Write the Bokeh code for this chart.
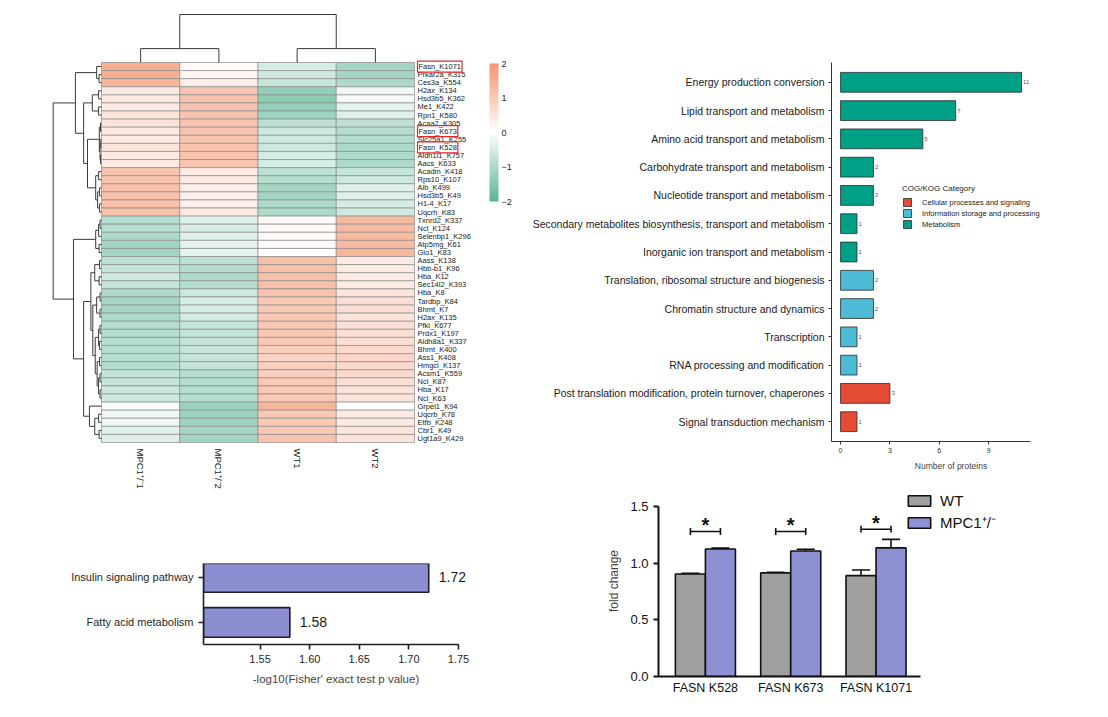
import math
from bokeh.plotting import figure
from bokeh.models import (ColumnDataSource, Range1d, FactorRange, LinearColorMapper, ColorBar,
                          FixedTicker, Legend, LegendItem, Whisker, TeeHead, NumeralTickFormatter)
from bokeh.layouts import row, column
from bokeh.core.properties import value
from bokeh.embed import file_html
from bokeh.resources import INLINE

FONT = "Liberation Sans"

# ---------------- heatmap data ----------------
row_labels = ["Fasn_K1071", "Prkar2a_K315", "Ces3a_K554", "H2ax_K134", "Hsd3b5_K362", "Me1_K422",
              "Rpn1_K580", "Acaa2_K305", "Fasn_K673", "Slc25a1_K255", "Fasn_K528", "Aldh1l1_K757",
              "Aacs_K633", "Acadm_K418", "Rps10_K107", "Alb_K499", "Hsd3b5_K49", "H1-4_K17",
              "Uqcrh_K83", "Txnrd2_K337", "Ncl_K124", "Selenbp1_K296", "Atp5mg_K61", "Glo1_K83",
              "Aass_K138", "Hbb-b1_K96", "Hba_K12", "Sec14l2_K393", "Hba_K8", "Tardbp_K84",
              "Bhmt_K7", "H2ax_K135", "Pfkl_K677", "Prdx1_K197", "Aldh8a1_K337", "Bhmt_K400",
              "Ass1_K408", "Hmgcl_K137", "Acsm1_K559", "Ncl_K87", "Hba_K17", "Ncl_K63",
              "Grpel1_K94", "Uqcrb_K78", "Etfb_K248", "Cbr1_K49", "Ugt1a9_K429"]
sample_labels = ["MPC1\u207a/\u207b1", "MPC1\u207a/\u207b2", "WT1", "WT2"]
z_mpc1_1 = [1.5, 1.5, 1.4, 0.4, 0.4, 0.4, 0.5, 0.5, 0.4, 0.4, 0.5, 0.4, 0.4, 1.1, 1.1, 1.2, 1.2,
            1.2, 1.2, -0.9, -0.9, -1.0, -1.1, -1.1, -0.8, -0.7, -0.6, -0.7, -1.0, -1.1, -1.1,
            -1.0, -0.9, -0.9, -0.9, -0.9, -0.9, -0.9, -0.7, -0.7, -0.6, -0.6, -0.1, -0.2, -0.2,
            -0.4, -0.4]
z_mpc1_2 = [0.1, 0.2, 0.3, 1.1, 1.1, 1.1, 1.1, 1.1, 1.1, 1.1, 1.1, 1.1, 1.1, 0.4, 0.4, 0.3, 0.3,
            0.3, 0.4, -0.4, -0.5, -0.4, -0.3, -0.3, -0.8, -0.9, -1.0, -0.9, -0.6, -0.5, -0.5,
            -0.5, -0.7, -0.7, -0.7, -0.7, -0.7, -0.7, -0.9, -0.9, -0.9, -0.9, -1.2, -1.2, -1.2,
            -1.1, -1.1]
z_wt1 = [-0.5, -0.6, -0.7, -1.3, -1.4, -1.3, -1.2, -0.8, -0.6, -0.6, -0.6, -0.5, -0.5, -0.8,
         -0.9, -1.1, -1.1, -1.0, -1.0, 0.1, 0.1, 0.1, 0.1, 0.0, 1.2, 1.2, 1.2, 1.2, 1.1, 1.0,
         1.0, 1.0, 1.0, 1.0, 1.0, 0.9, 0.8, 0.9, 0.9, 1.0, 1.0, 1.0, 1.4, 1.0, 1.0, 1.0, 1.1]
z_wt2 = [-1.1, -1.1, -1.0, -0.2, -0.1, -0.3, -0.4, -0.8, -0.9, -0.9, -1.0, -1.0, -1.0, -0.7,
         -0.6, -0.4, -0.4, -0.5, -0.6, 1.3, 1.3, 1.3, 1.3, 1.4, 0.4, 0.4, 0.4, 0.4, 0.5, 0.6,
         0.6, 0.5, 0.6, 0.6, 0.6, 0.7, 0.8, 0.7, 0.7, 0.6, 0.5, 0.5, 0.0, 0.4, 0.4, 0.5, 0.5]
boxed_labels = ["Fasn_K1071", "Fasn_K673", "Fasn_K528"]

# hierarchical clustering trees: [merge distance, child, child, ...]; ints are row/column indices
row_tree = [1.0,
            [0.54,
             [0.10, 0, [0.05, 1, 2]],
             [0.37,
              [0.19, [0.06, 3, 4], [0.06, 5, 6]],
              [0.29,
               [0.045, [0.02, 7, 8], [0.03, [0.015, 9, 10], [0.02, 11, 12]]],
               [0.12, [0.06, 13, 14], [0.08, [0.04, 15, 16], [0.04, 17, 18]]]]]],
            [0.58,
             [0.12, [0.06, [0.03, 19, 20], 21], [0.05, 22, 23]],
             [0.37,
              [0.22,
               [0.14, [0.04, 24, 25], [0.05, 26, 27]],
               [0.18,
                [0.10, [0.03, 28, 29], [0.03, 30, 31]],
                [0.13,
                 [0.06, [0.03, 32, 33], [0.04, 34, 35]],
                 [0.09, [0.04, 36, 37], [0.06, [0.03, 38, 39], [0.03, 40, 41]]]]]],
              [0.25, 42, [0.14, [0.06, 43, 44], [0.05, 45, 46]]]]]]
col_tree = [1.0, [0.29, 0, 1], [0.29, 2, 3]]

# ---------------- COG/KOG data ----------------
cog_terms = ["Energy production conversion", "Lipid transport and metabolism",
             "Amino acid transport and metabolism", "Carbohydrate transport and metabolism",
             "Nucleotide transport and metabolism",
             "Secondary metabolites biosynthesis, transport and metabolism",
             "Inorganic ion transport and metabolism",
             "Translation, ribosomal structure and biogenesis", "Chromatin structure and dynamics",
             "Transcription", "RNA processing and modification",
             "Post translation modification, protein turnover, chaperones",
             "Signal transduction mechanism"]
cog_counts = [11, 7, 5, 2, 2, 1, 1, 2, 2, 1, 1, 3, 1]
cog_class = ["Metabolism"] * 7 + ["Information storage and processing"] * 4 + \
            ["Cellular processes and signaling"] * 2
cog_classes = ["Cellular processes and signaling", "Information storage and processing", "Metabolism"]
cog_colors = ["#E64B35", "#4DBBD5", "#00A087"]
cog_ticks = [0, 3, 6, 9]

# ---------------- pathway enrichment ----------------
path_terms = ["Insulin signaling pathway", "Fatty acid metabolism"]
path_scores = [1.72, 1.58]
path_ticks = [1.55, 1.60, 1.65, 1.70, 1.75]

# ---------------- FASN sites ----------------
fasn_sites = ["FASN K528", "FASN K673", "FASN K1071"]
wt_mean = [0.905, 0.915, 0.890]
wt_err = [0.006, 0.004, 0.050]
mpc_mean = [1.125, 1.108, 1.135]
mpc_err = [0.008, 0.015, 0.075]
sig_level = [1.28, 1.28, 1.30]
fasn_ticks = [0.0, 0.5, 1.0, 1.5]


def base_fig(**kw):
    p = figure(output_backend="svg", toolbar_location=None, frame_align=False, **kw)
    p.grid.visible = False
    p.outline_line_color = None
    p.background_fill_color = "white"
    p.border_fill_color = "white"
    return p


def style_axes(p, label_size, tick_out=4, line_width=1.0, color="#222222"):
    for ax in p.axis:
        ax.major_label_text_font = FONT
        ax.axis_label_text_font = FONT
        ax.axis_label_text_font_style = "normal"
        ax.major_label_text_font_size = label_size
        ax.major_label_text_color = color
        ax.axis_line_color = color
        ax.axis_line_width = line_width
        ax.major_tick_line_color = color
        ax.major_tick_line_width = line_width
        ax.major_tick_in = 0
        ax.major_tick_out = tick_out
        ax.minor_tick_line_color = None


# ================= heatmap panel =================
HW, HH = 515, 495
CELL_W, CELL_H = 78.25, 8.085
HX0, HY0 = 101, 62
n_rows = len(row_labels)
hm = base_fig(width=HW, height=HH,
              x_range=Range1d(-HX0 / CELL_W, (HW - HX0) / CELL_W),
              y_range=Range1d((HH - HY0) / CELL_H, -HY0 / CELL_H),
              x_axis_location=None, y_axis_location=None,
              min_border_left=0, min_border_right=0, min_border_top=0, min_border_bottom=0)


def mix(a, b, t):
    return "#%02x%02x%02x" % tuple(int(round(a[k] + (b[k] - a[k]) * t)) for k in range(3))


low_c, mid_c, high_c = (90, 181, 146), (255, 255, 255), (244, 149, 111)
palette = []
for i in range(256):
    t = i / 255 * 2 - 1
    palette.append(mix(mid_c, low_c, -t) if t < 0 else mix(mid_c, high_c, t))
mapper = LinearColorMapper(palette=palette, low=-2, high=2)

cells = dict(x=[], y=[], v=[])
for j, col in enumerate([z_mpc1_1, z_mpc1_2, z_wt1, z_wt2]):
    for i, v in enumerate(col):
        cells["x"].append(j + 0.5)
        cells["y"].append(i + 0.5)
        cells["v"].append(v)
hm.rect(x="x", y="y", width=1, height=1, source=ColumnDataSource(cells),
        fill_color={"field": "v", "transform": mapper}, line_color="#8d8d8d", line_width=0.7)


def dendro(node):
    if isinstance(node, int):
        return node + 0.5, 0.0, []
    h = node[0]
    segs, poss = [], []
    for child in node[1:]:
        p, ch, s = dendro(child)
        segs += s
        segs.append(((p, ch), (p, h)))
        poss.append(p)
    segs.append(((min(poss), h), (max(poss), h)))
    return (poss[0] + poss[-1]) / 2, h, segs


ROW_D = (HX0 - 52.7) / CELL_W
COL_D = (HY0 - 14) / CELL_H
_, _, rsegs = dendro(row_tree)
hm.multi_line(xs=[[-a[1] * ROW_D, -b[1] * ROW_D] for a, b in rsegs],
              ys=[[a[0], b[0]] for a, b in rsegs], line_color="#3a3a3a", line_width=1)
_, _, csegs = dendro(col_tree)
hm.multi_line(xs=[[a[0], b[0]] for a, b in csegs],
              ys=[[-a[1] * COL_D, -b[1] * COL_D] for a, b in csegs], line_color="#3a3a3a", line_width=1)

plain = [(i, l) for i, l in enumerate(row_labels) if l not in boxed_labels]
boxed = [(i, l) for i, l in enumerate(row_labels) if l in boxed_labels]
hm.text(x=[4] * len(plain), y=[i + 0.5 for i, _ in plain], text=[l for _, l in plain],
        x_offset=3, text_font=value(FONT), text_font_size="7.5px", text_align="left",
        text_baseline="middle", text_color="#1a1a1a")
hm.text(x=[4] * len(boxed), y=[i + 0.5 for i, _ in boxed], text=[l for _, l in boxed],
        x_offset=3, text_font=value(FONT), text_font_size="7.5px", text_align="left",
        text_baseline="middle", text_color="#1a1a1a", border_line_color="#e0282e",
        border_line_width=1.2, padding=1)
hm.text(x=[j + 0.5 for j in range(len(sample_labels))], y=[n_rows] * len(sample_labels),
        text=sample_labels, angle=-math.pi / 2, y_offset=6, text_font=value(FONT),
        text_font_size="9.5px", text_align="left", text_baseline="middle", text_color="#1a1a1a")

cb = ColorBar(color_mapper=mapper, ticker=FixedTicker(ticks=[-2, -1, 0, 1, 2]), width=9, height=138,
              location=(489, HH - 201), orientation="vertical", padding=0, margin=0,
              label_standoff=3, major_label_text_font_size="9px", major_label_text_font=FONT,
              major_label_text_color="#222222", major_tick_line_color=None, bar_line_color=None,
              background_fill_alpha=0, border_line_color=None,
              major_label_overrides={-2: "\u22122", -1: "\u22121", 0: "0", 1: "1", 2: "2"})
hm.add_layout(cb)

# ================= COG/KOG bar chart =================
CW, CH = 1108 - HW, 485
COG_PX = 16.45               # pixels per protein
COG_L, COG_R = 831, 1070     # frame edges (page px)
cog_x0 = -0.55
cog = base_fig(width=CW, height=CH,
               x_range=Range1d(cog_x0, cog_x0 + (COG_R - COG_L) / COG_PX),
               y_range=FactorRange(factors=list(reversed(cog_terms)), range_padding=0.2,
                                   range_padding_units="absolute"),
               min_border_left=COG_L - HW, min_border_right=1108 - COG_R,
               min_border_top=62, min_border_bottom=CH - 441)
items = []
for cls, colr in zip(cog_classes, cog_colors):
    idx = [i for i, c in enumerate(cog_class) if c == cls]
    src = ColumnDataSource(dict(y=[cog_terms[i] for i in idx], v=[cog_counts[i] for i in idx]))
    r = cog.hbar(y="y", left=0, right="v", height=0.7, source=src, fill_color=colr,
                 line_color="#2b2b2b", line_width=0.8)
    items.append(LegendItem(label=cls, renderers=[r]))
cog.text(x=cog_counts, y=cog_terms, text=[str(c) for c in cog_counts], x_offset=1.5,
         text_font=value(FONT), text_font_size="6px", text_baseline="middle", text_color="#555555")
style_axes(cog, "10.5px", tick_out=3, line_width=1.0, color="#333333")
cog.xaxis.bounds = (cog_x0, 11.55)
cog.yaxis.major_label_text_color = "#1a1a1a"
cog.xaxis.major_label_text_font_size = "7px"
cog.xaxis.ticker = FixedTicker(ticks=cog_ticks)
cog.xaxis.axis_label = "Number of proteins"
cog.xaxis.axis_label_text_font_size = "8.5px"
cog.xaxis.axis_label_standoff = 5
cog.xaxis.major_label_standoff = 3
cog.yaxis.major_label_standoff = 4
leg = Legend(items=items, title="COG/KOG Category", location=(71, 212),
             title_text_font=FONT, title_text_font_size="8px", title_text_font_style="normal",
             title_text_color="#222222", title_standoff=4,
             label_text_font=FONT, label_text_font_size="7.5px", label_text_color="#222222",
             glyph_width=10, glyph_height=10, label_height=10, spacing=1, padding=0, margin=0,
             label_standoff=10, border_line_color=None, background_fill_alpha=0)
cog.add_layout(leg)

# ================= pathway enrichment =================
BH = 717 - HH
PW_PX = 255 / 0.257          # pixels per unit
PW_L, PW_R = 203, 468
pw_x0 = 1.493
path_pos = [len(path_terms) - 1 - i for i in range(len(path_terms))]
pw = base_fig(width=HW, height=BH,
              x_range=Range1d(pw_x0, pw_x0 + (PW_R - PW_L) / PW_PX), y_range=Range1d(-0.49, 1.31),
              min_border_left=PW_L, min_border_right=HW - PW_R, min_border_top=563 - HH,
              min_border_bottom=717 - 644)
pw.hbar(y=path_pos, left=pw_x0, right=path_scores, height=0.66, fill_color="#8B8ED0",
        line_color="#1c1c2c", line_width=1.6)
pw.text(x=path_scores, y=path_pos, text=["%.2f" % v for v in path_scores], x_offset=10,
        text_font=value(FONT), text_font_size="14px", text_baseline="middle", text_color="#1a1a1a")
style_axes(pw, "11px", tick_out=5, line_width=1.6, color="#1f1f1f")
pw.xaxis.bounds = (pw_x0, 1.75)
pw.yaxis.ticker = FixedTicker(ticks=path_pos)
pw.yaxis.major_label_overrides = {p: t for p, t in zip(path_pos, path_terms)}
pw.xaxis.ticker = FixedTicker(ticks=path_ticks)
pw.xaxis.formatter = NumeralTickFormatter(format="0.00")
pw.xaxis.axis_label = "-log10(Fisher' exact test p value)"
pw.xaxis.axis_label_text_font_size = "11.5px"
pw.xaxis.axis_label_standoff = 7
pw.xaxis.major_label_standoff = 5

# ================= FASN fold change =================
FH = 717 - CH
gx = list(range(len(fasn_sites)))
DODGE, BW = 0.176, 0.352
wt_x = [g - DODGE for g in gx]
mpc_x = [g + DODGE for g in gx]
FX_PX, FY_PX = 85.3, 113.3
FS_L, FS_R, FS_T, FS_B = 658, 1065, CH, 676
fx0 = -0.55
fs = base_fig(width=CW, height=FH,
              x_range=Range1d(fx0, fx0 + (FS_R - FS_L) / FX_PX),
              y_range=Range1d(0, (FS_B - FS_T) / FY_PX),
              min_border_left=FS_L - HW, min_border_right=1108 - FS_R, min_border_top=FS_T - CH,
              min_border_bottom=717 - FS_B)
r_wt = fs.vbar(x=wt_x, top=wt_mean, bottom=0, width=BW, fill_color="#A0A0A0", line_color="#111111",
               line_width=1.6)
r_mpc = fs.vbar(x=mpc_x, top=mpc_mean, bottom=0, width=BW, fill_color="#8E90D4",
                line_color="#111111", line_width=1.6)
err = ColumnDataSource(dict(base=wt_x + mpc_x, lower=wt_mean + mpc_mean,
                            upper=[m + e for m, e in zip(wt_mean + mpc_mean, wt_err + mpc_err)]))
fs.add_layout(Whisker(source=err, base="base", lower="lower", upper="upper", dimension="height",
                      line_width=1.6, line_color="#111111", lower_head=None,
                      upper_head=TeeHead(size=18, line_width=1.6, line_color="#111111")))
fs.segment(x0=wt_x, x1=mpc_x, y0=sig_level, y1=sig_level, line_width=1.6, line_color="#111111")
fs.segment(x0=wt_x + mpc_x, x1=wt_x + mpc_x, y0=[s - 0.03 for s in sig_level * 2],
           y1=[s + 0.03 for s in sig_level * 2], line_width=1.6, line_color="#111111")
fs.text(x=gx, y=sig_level, text=["*"] * len(gx), y_offset=5, text_align="center",
        text_baseline="bottom", text_font=value(FONT), text_font_size="20px",
        text_font_style="bold", text_color="#111111")
style_axes(fs, "13px", tick_out=5, line_width=2, color="#111111")
fs.xaxis.bounds = (fx0, 2.52)
fs.yaxis.bounds = (0, 1.5)
fs.xaxis.ticker = FixedTicker(ticks=gx)
fs.xaxis.major_label_overrides = {g: s for g, s in zip(gx, fasn_sites)}
fs.xaxis.major_label_text_font_size = "12.5px"
fs.xaxis.major_tick_out = 0
fs.xaxis.major_label_standoff = 4
fs.yaxis.ticker = FixedTicker(ticks=fasn_ticks)
fs.yaxis.formatter = NumeralTickFormatter(format="0.0")
fs.yaxis.axis_label = "fold change"
fs.yaxis.axis_label_text_font_size = "12px"
fs.yaxis.axis_label_standoff = 6
fleg = Legend(items=[LegendItem(label="WT", renderers=[r_wt]),
                     LegendItem(label="MPC1\u207a/\u207b", renderers=[r_mpc])],
              location=(247, 144), label_text_font=FONT, label_text_font_size="15px",
              label_text_color="#111111", glyph_width=28, glyph_height=13, label_height=13,
              spacing=3, padding=0, margin=0, label_standoff=7, border_line_color=None,
              background_fill_alpha=0)
fs.add_layout(fleg)

layout = row(column(hm, pw), column(cog, fs))
open("out.html", "w").write(file_html(layout, INLINE))
